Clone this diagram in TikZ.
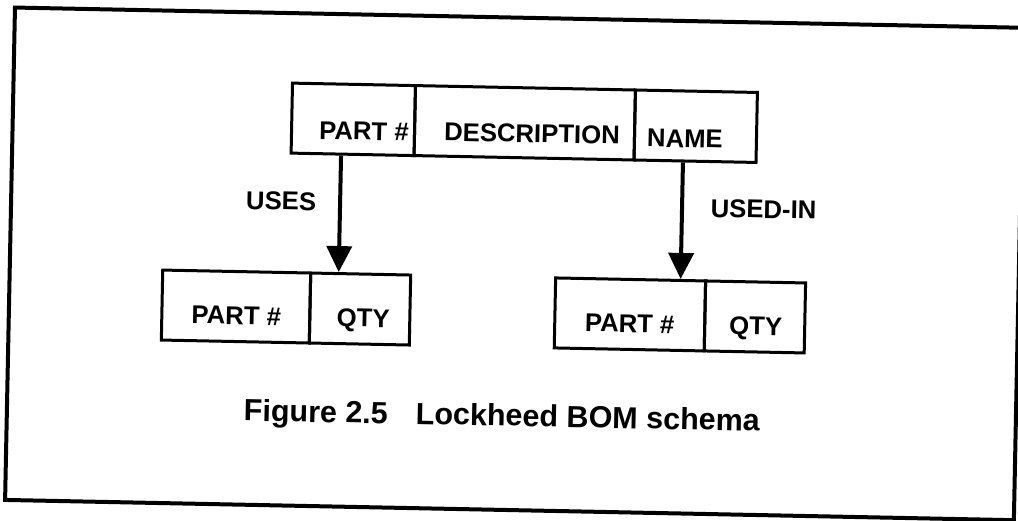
\documentclass[tikz,border=0pt]{standalone}
\usepackage{fontspec}
\setmainfont{Liberation Sans}
\usetikzlibrary{arrows.meta}
\begin{document}
\begin{tikzpicture}[x=1pt,y=-1pt,
  cell/.style={draw, line width=3pt, inner sep=0pt, minimum height=70pt},
  lab/.style={font=\fontsize{25.7}{30}\selectfont\bfseries, inner sep=0pt, anchor=base},
  captext/.style={font=\fontsize{30.5}{36}\selectfont\bfseries, inner sep=0pt, anchor=base},
  link/.style={line width=4pt, -{Triangle[length=26pt,width=25pt]}},
  outerframe/.style={line width=4pt}
]
\useasboundingbox (0,0) rectangle (1018,520);
\fill[white] (0,0) rectangle (1018,520);
\clip (0,0) rectangle (1018,520);
\begin{scope}[rotate around={-1.15:(509,260)}, transform shape]
  % outer frame
  \draw[outerframe] (10,17.5) rectangle (1019,510);
  % top record
  \node[cell, minimum width=123pt] (tpart) at (350.5,122.5) {};
  \node[cell, minimum width=220pt] (tdesc) at (522,122.5) {};
  \node[cell, minimum width=122pt] (tname) at (693,122.5) {};
  \node[lab] (tpartl) at (361.5,143) {PART \#};
  \node[lab] (tdescl) at (529.5,142) {DESCRIPTION};
  \node[lab] (tnamel) at (682.5,144) {NAME};
  % bottom-left record
  \node[cell, minimum width=148pt] (lpart) at (237,312) {};
  \node[cell, minimum width=100pt] (lqty) at (361,312) {};
  \node[lab] (lpartl) at (237.5,330) {PART \#};
  \node[lab] (lqtyl) at (364.5,330) {QTY};
  % bottom-right record
  \node[cell, minimum width=150pt] (rpart) at (631,312) {};
  \node[cell, minimum width=100pt] (rqty) at (756,312) {};
  \node[lab] (rpartl) at (631,330) {PART \#};
  \node[lab] (rqtyl) at (757,330) {QTY};
  % connectors
  \coordinate (lx) at (339,0);
  \coordinate (rx) at (681,0);
  \draw[link] (tpart.south -| lx) -- (lqty.north -| lx);
  \draw[link] (tname.south -| rx) -- (rpart.north -| rx);
  \node[lab] (uses) at (280,214.5) {USES};
  \node[lab] (usedin) at (762.5,213) {USED-IN};
  % caption
  \node[captext] (caption) at (505,426) {Figure 2.5\hspace{28pt}Lockheed BOM schema};
\end{scope}
\end{tikzpicture}
\end{document}
